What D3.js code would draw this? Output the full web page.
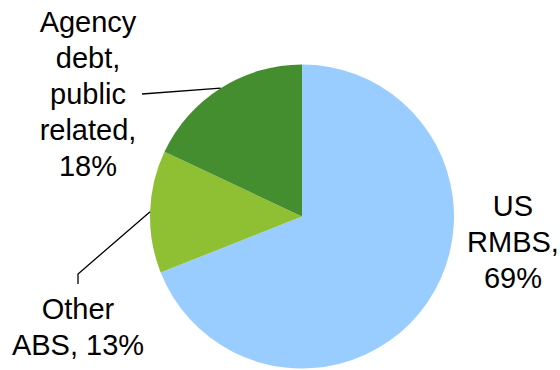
<!DOCTYPE html>
<html>
<head>
<meta charset="utf-8">
<script src="https://cdn.jsdelivr.net/npm/d3@7"></script>
<style>
    body { margin: 0; background: #fff; }
    text { font-family: "Liberation Sans", Arial, sans-serif; font-size: 29px; fill: #000; }
</style>
</head>
<body>
<svg id="chart" width="560" height="370"></svg>
<script>
// slices, clockwise from 12 o'clock
var categories = ["US RMBS", "Other ABS", "Agency debt, public related"];
var shares = [69, 13, 18];
var labelLines = [
    ["US", "RMBS,", "69%"],
    ["Other", "ABS, 13%"],
    ["Agency", "debt,", "public", "related,", "18%"]
];
var colors = ["#99ccff", "#8fbf32", "#448e30"];

var svg = d3.select("#chart");
var cx = 302, cy = 216.5, radius = 152;
var lineH = 36;

// where each label block sits (x centre, first baseline) and the leader elbow
var labelPos = [
    {x: 513, y: 216, leader: null},
    {x: 78, y: 319, leader: [[78, 274], [78, 284]]},
    {x: 88, y: 32, leader: [[142, 94]]}
];

var data = categories.map(function (c, i) {
    return {name: c, value: shares[i], lines: labelLines[i], color: colors[i], pos: labelPos[i]};
});

var pie = d3.pie()
    .sort(null)
    .value(function (d) { return d.value; })
    (data);

var arc = d3.arc()
    .innerRadius(0)
    .outerRadius(radius);

var chart = svg.append("g")
    .attr("transform", "translate(" + cx + "," + cy + ")");

chart.selectAll("path.slice")
    .data(pie)
    .enter().append("path")
    .attr("class", "slice")
    .attr("fill", function (d) { return d.data.color; })
    .attr("d", arc);

function midAngle(d) {
    return d.startAngle + (d.endAngle - d.startAngle) / 2;
}

// leader lines: from the rim at mid angle to the label
pie.forEach(function (d) {
    var p = d.data.pos;
    if (!p.leader) return;
    var a = midAngle(d);
    var pts = [[cx + radius * Math.sin(a), cy - radius * Math.cos(a)]].concat(p.leader);
    svg.append("polyline")
        .attr("points", pts.map(function (q) { return q.join(","); }).join(" "))
        .attr("fill", "none")
        .attr("stroke", "#000")
        .attr("stroke-width", 1.3);
});

// labels
pie.forEach(function (d) {
    var p = d.data.pos;
    var t = svg.append("text")
        .attr("text-anchor", "middle");
    d.data.lines.forEach(function (ln, j) {
        t.append("tspan")
            .attr("x", p.x)
            .attr("y", p.y + j * lineH)
            .text(ln);
    });
});
</script>
</body>
</html>
